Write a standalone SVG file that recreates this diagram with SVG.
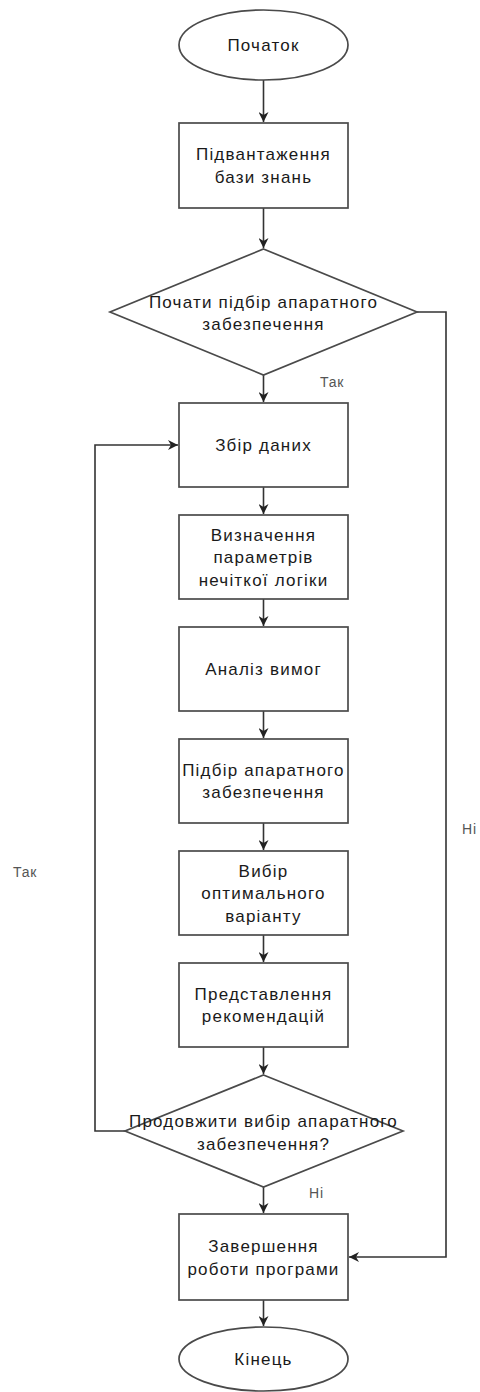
<svg xmlns="http://www.w3.org/2000/svg" width="480" height="1392" viewBox="0 0 480 1392">
<style>
.s{fill:#fff;stroke:#4a4a4a;stroke-width:1.7}
.t{font-family:"Liberation Sans",Arial,sans-serif;font-size:17px;letter-spacing:1.2px;fill:#1a1a1a;text-anchor:middle}
.l{font-family:"Liberation Sans",Arial,sans-serif;font-size:14px;letter-spacing:0.8px;fill:#555}
.c{fill:none;stroke:#333;stroke-width:1.6}
</style>
<defs>
<marker id="a" viewBox="0 0 10 10" refX="10" refY="5" markerWidth="10" markerHeight="10" markerUnits="userSpaceOnUse" orient="auto">
<path d="M0,0 L10,5 L0,10 L3,5 z" fill="#222"/>
</marker>
</defs>
<rect width="480" height="1392" fill="#fff"/>
<g id="connectors">
<path class="c" d="M263.5,80 V122" marker-end="url(#a)"/>
<path class="c" d="M263.5,208 V248" marker-end="url(#a)"/>
<path class="c" d="M263.5,375 V402" marker-end="url(#a)"/>
<path class="c" d="M263.5,487 V514" marker-end="url(#a)"/>
<path class="c" d="M263.5,599 V626" marker-end="url(#a)"/>
<path class="c" d="M263.5,711 V738" marker-end="url(#a)"/>
<path class="c" d="M263.5,823 V850" marker-end="url(#a)"/>
<path class="c" d="M263.5,935 V962" marker-end="url(#a)"/>
<path class="c" d="M263.5,1047 V1074" marker-end="url(#a)"/>
<path class="c" d="M263.5,1187 V1213" marker-end="url(#a)"/>
<path class="c" d="M263.5,1300 V1326" marker-end="url(#a)"/>
<path class="c" d="M417,312 H446 V1257 H349" marker-end="url(#a)"/>
<path class="c" d="M125,1131 H95 V445 H178" marker-end="url(#a)"/>
<text class="l" x="320" y="387">Так</text>
<text class="l" x="13" y="877">Так</text>
<text class="l" x="462" y="834">Ні</text>
<text class="l" x="309" y="1198">Ні</text>
</g>
<g id="start">
<ellipse class="s" cx="263.5" cy="45" rx="84.5" ry="35"/>
<text class="t" x="263.5" y="51">Початок</text>
</g>
<g id="load">
<rect class="s" x="179" y="123" width="169" height="85"/>
<text class="t" x="263.5" y="160">Підвантаження</text>
<text class="t" x="263.5" y="183">бази знань</text>
</g>
<g id="decision1">
<polygon class="s" points="263.5,249 417,312 263.5,375 110,312"/>
<text class="t" x="263.5" y="308">Почати підбір апаратного</text>
<text class="t" x="263.5" y="330">забезпечення</text>
</g>
<g id="collect">
<rect class="s" x="179" y="403" width="169" height="84"/>
<text class="t" x="263.5" y="451">Збір даних</text>
</g>
<g id="params">
<rect class="s" x="179" y="515" width="169" height="84"/>
<text class="t" x="263.5" y="541">Визначення</text>
<text class="t" x="263.5" y="563">параметрів</text>
<text class="t" x="263.5" y="586">нечіткої логіки</text>
</g>
<g id="analysis">
<rect class="s" x="179" y="627" width="169" height="84"/>
<text class="t" x="263.5" y="675">Аналіз вимог</text>
</g>
<g id="select">
<rect class="s" x="179" y="739" width="169" height="84"/>
<text class="t" x="263.5" y="776">Підбір апаратного</text>
<text class="t" x="263.5" y="798">забезпечення</text>
</g>
<g id="optimal">
<rect class="s" x="179" y="851" width="169" height="84"/>
<text class="t" x="263.5" y="877">Вибір</text>
<text class="t" x="263.5" y="899">оптимального</text>
<text class="t" x="263.5" y="922">варіанту</text>
</g>
<g id="recommend">
<rect class="s" x="179" y="963" width="169" height="84"/>
<text class="t" x="263.5" y="1000">Представлення</text>
<text class="t" x="263.5" y="1022">рекомендацій</text>
</g>
<g id="decision2">
<polygon class="s" points="263.5,1075 403,1131 263.5,1187 125,1131"/>
<text class="t" x="263.5" y="1127">Продовжити вибір апаратного</text>
<text class="t" x="263.5" y="1150">забезпечення?</text>
</g>
<g id="finish">
<rect class="s" x="179" y="1214" width="169" height="86"/>
<text class="t" x="263.5" y="1252">Завершення</text>
<text class="t" x="263.5" y="1275">роботи програми</text>
</g>
<g id="end">
<ellipse class="s" cx="263.5" cy="1359" rx="84.5" ry="32"/>
<text class="t" x="263.5" y="1365">Кінець</text>
</g>
</svg>
